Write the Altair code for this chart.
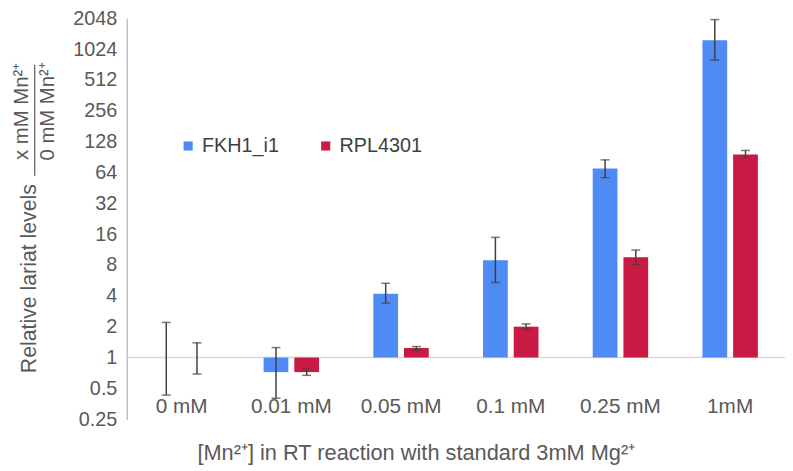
import altair as alt
import pandas as pd

categories = ["0 mM", "0.01 mM", "0.05 mM", "0.1 mM", "0.25 mM", "1mM"]
series = ["FKH1_i1", "RPL4301"]
fkh = [1, 0.72, 4.2, 8.9, 70, 1250]
fkh_lo = [0.43, 0.40, 3.4, 5.4, 57, 800]
fkh_hi = [2.2, 1.25, 5.3, 14.9, 85, 1990]
rpl = [1, 0.72, 1.24, 2.0, 9.5, 96]
rpl_lo = [0.69, 0.67, 1.18, 1.88, 8.1, 90]
rpl_hi = [1.39, 0.77, 1.28, 2.13, 11.2, 105]
y_ticks = [0.25, 0.5, 1, 2, 4, 8, 16, 32, 64, 128, 256, 512, 1024, 2048]
colors = ["#4F8BF4", "#C81A42"]

rows = []
for i, c in enumerate(categories):
    rows.append({"cat": c, "series": series[0], "v": fkh[i], "lo": fkh_lo[i], "hi": fkh_hi[i], "base": 1})
    rows.append({"cat": c, "series": series[1], "v": rpl[i], "lo": rpl_lo[i], "hi": rpl_hi[i], "base": 1})
df = pd.DataFrame(rows)

FONT = "Liberation Sans"
W, H = 665, 405
TOP = 8
PT = 16  # page y of plot top

x_enc = alt.X("cat:N", sort=categories,
              scale=alt.Scale(paddingInner=0, paddingOuter=0),
              axis=alt.Axis(title="[Mn²⁺] in RT reaction with standard 3mM Mg²⁺",
                            labelAngle=0, domain=False, ticks=False,
                            labelPadding=-13, labelBaseline="middle",
                            labelFontSize=21, labelColor="#595959", labelFont=FONT,
                            titleFontSize=22, titleColor="#595959", titleFont=FONT,
                            titleFontWeight="normal", titleX=292, titleY=34,
                            titleAlign="center", titleBaseline="middle"))
xoff = alt.XOffset("series:N", sort=series,
                   scale=alt.Scale(paddingInner=0.194, paddingOuter=0.884))
y_scale = alt.Scale(type="log", base=2, domain=[0.25, 2048])

base = alt.Chart(df)

bars = base.mark_bar().encode(
    x=x_enc,
    xOffset=xoff,
    y=alt.Y("v:Q", scale=y_scale,
            axis=alt.Axis(title=None, values=y_ticks, format="~g", grid=False,
                          ticks=False, domainColor="#bfbfbf", domainWidth=1.5,
                          labelFontSize=20, labelColor="#595959", labelFont=FONT,
                          labelPadding=10)),
    y2="base:Q",
    color=alt.Color("series:N", sort=series,
                    scale=alt.Scale(domain=series, range=colors),
                    legend=alt.Legend(title=None, orient="none", direction="horizontal",
                                      legendX=52, legendY=119, symbolType="square",
                                      symbolSize=85, symbolStrokeWidth=0,
                                      labelFontSize=20, labelColor="#404040",
                                      labelFont=FONT, labelOffset=4,
                                      columnPadding=37)),
)

baseline = alt.Chart(pd.DataFrame({"b": [1]})).mark_rule(color="#d9d9d9", strokeWidth=1.5).encode(
    y=alt.Y("b:Q", scale=y_scale)
)

err = base.mark_rule(color="#404040", strokeWidth=1.5).encode(
    x=x_enc, xOffset=xoff, y=alt.Y("lo:Q", scale=y_scale), y2="hi:Q"
)
cap_lo = base.mark_tick(color="#404040", size=9, thickness=1.5, orient="horizontal").encode(
    x=x_enc, xOffset=xoff, y=alt.Y("lo:Q", scale=y_scale)
)
cap_hi = base.mark_tick(color="#404040", size=9, thickness=1.5, orient="horizontal").encode(
    x=x_enc, xOffset=xoff, y=alt.Y("hi:Q", scale=y_scale)
)

ytitle = pd.DataFrame({"t": ["Relative lariat levels"]})
num = pd.DataFrame({"t": ["x mM Mn²⁺"]})
den = pd.DataFrame({"t": ["0 mM Mn²⁺"]})

t1 = alt.Chart(ytitle).mark_text(angle=270, fontSize=21.5, color="#595959", font=FONT,
                                 align="center", baseline="middle").encode(
    text="t:N", x=alt.value(-98), y=alt.value(279 - PT))
t2 = alt.Chart(num).mark_text(angle=270, fontSize=20.5, color="#595959", font=FONT,
                              align="center", baseline="middle").encode(
    text="t:N", x=alt.value(-106), y=alt.value(110 - PT))
t3 = alt.Chart(den).mark_text(angle=270, fontSize=20.5, color="#595959", font=FONT,
                              align="center", baseline="middle").encode(
    text="t:N", x=alt.value(-80), y=alt.value(110 - PT))
frac = alt.Chart(pd.DataFrame({"a": [0]})).mark_rule(color="#595959", strokeWidth=1.2).encode(
    x=alt.value(-93), y=alt.value(63 - PT), y2=alt.value(175 - PT))

chart = alt.layer(baseline, bars, err, cap_lo, cap_hi, t1, t2, t3, frac).properties(
    width=W, height=H,
    background="white",
    autosize=alt.AutoSizeParams(type="none"),
    padding={"left": 120, "top": TOP, "right": 0, "bottom": 55},
).configure_view(stroke=None)

chart.save("out.html", embed_options={"renderer": "svg", "actions": False})
